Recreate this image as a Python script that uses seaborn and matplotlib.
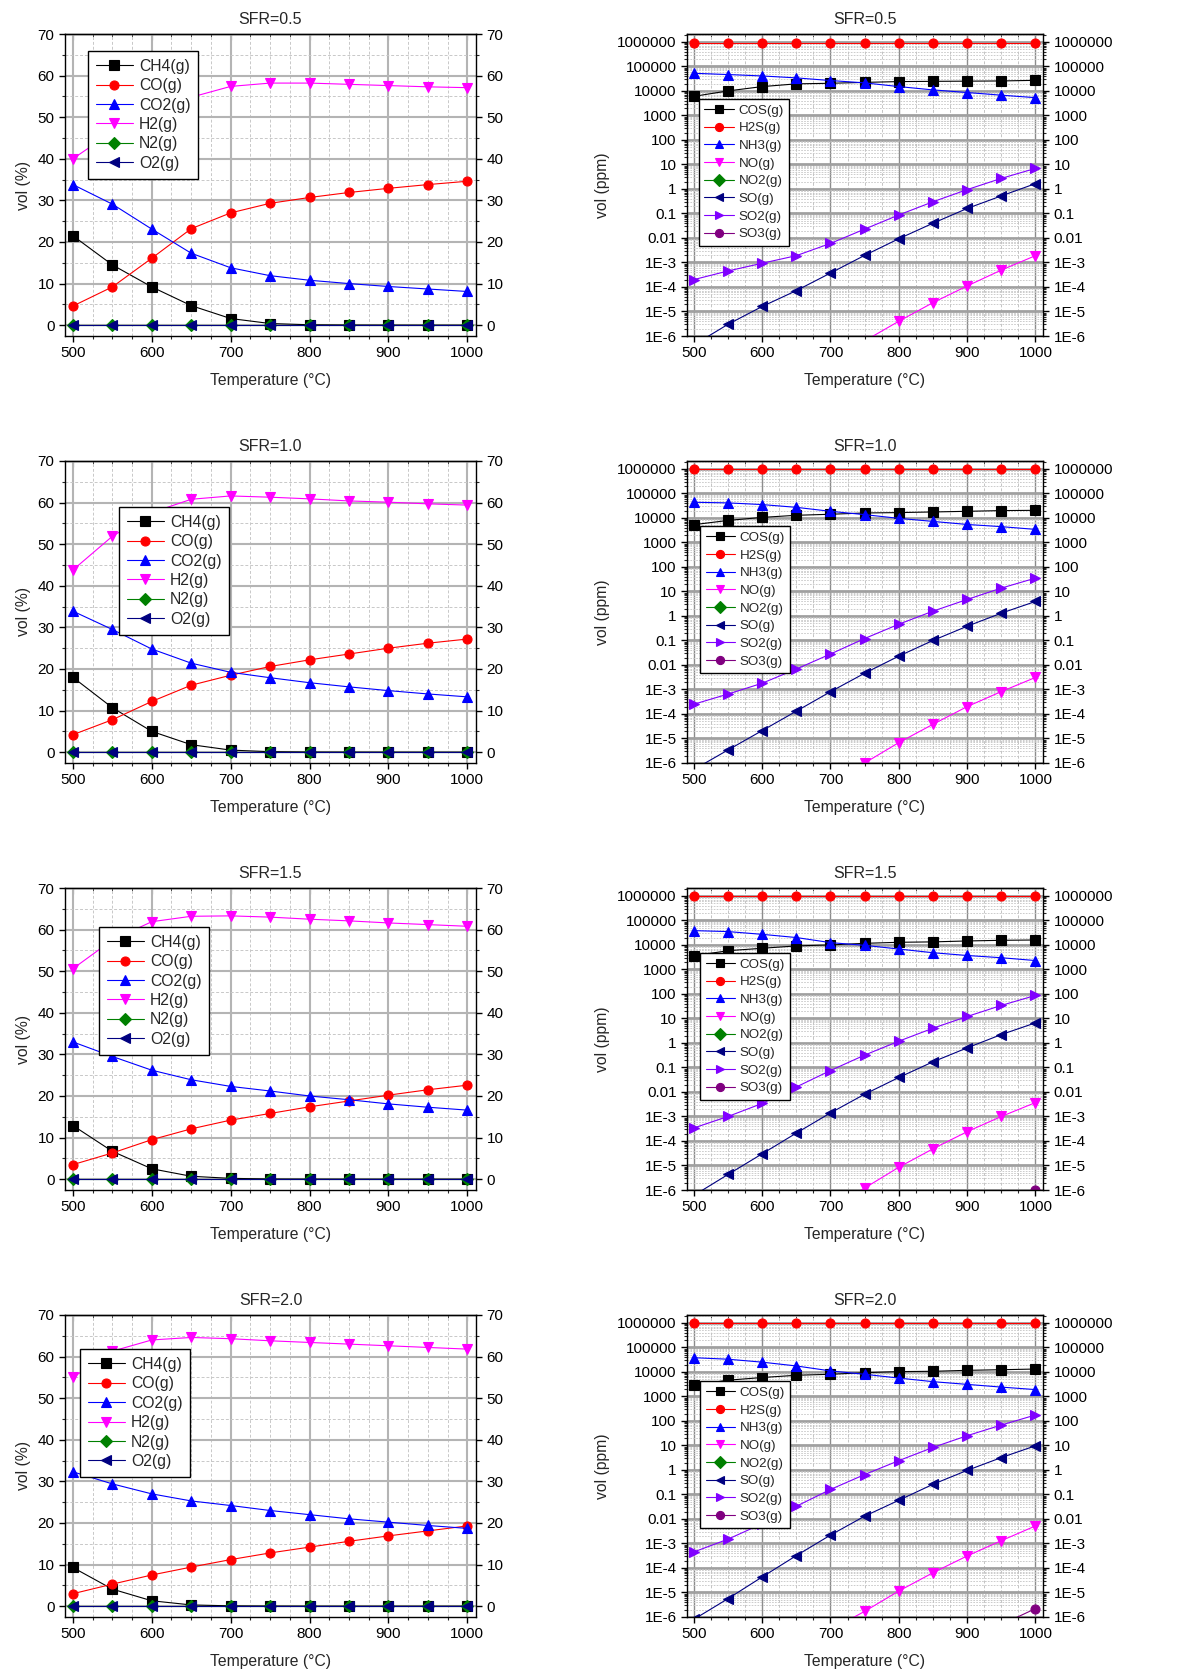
import numpy as np
import matplotlib
matplotlib.use('Agg')
import matplotlib.pyplot as plt
import matplotlib.ticker as ticker
import seaborn as sns

temps = [500, 550, 600, 650, 700, 750, 800, 850, 900, 950, 1000]
sfrs = ['0.5', '1.0', '1.5', '2.0']

# --- gases principais, vol (%) ---
ch4 = {'0.5': [21.5, 14.5, 9.2, 4.7, 1.6, 0.4, 0.1, 0.04, 0.02, 0.01, 0.01],
       '1.0': [18.0, 10.7, 5.0, 1.8, 0.5, 0.12, 0.04, 0.02, 0.01, 0.005, 0.003],
       '1.5': [12.9, 6.7, 2.5, 0.7, 0.2, 0.05, 0.02, 0.01, 0.005, 0.003, 0.002],
       '2.0': [9.3, 4.1, 1.3, 0.3, 0.08, 0.03, 0.01, 0.005, 0.003, 0.002, 0.001]}
co = {'0.5': [4.6, 9.2, 16.1, 23.2, 27.0, 29.3, 30.7, 31.9, 32.9, 33.8, 34.6],
      '1.0': [4.2, 7.8, 12.2, 16.1, 18.5, 20.6, 22.2, 23.6, 25.0, 26.2, 27.2],
      '1.5': [3.5, 6.3, 9.5, 12.1, 14.2, 15.8, 17.4, 18.8, 20.2, 21.5, 22.6],
      '2.0': [3.0, 5.3, 7.5, 9.4, 11.2, 12.8, 14.2, 15.6, 16.9, 18.1, 19.3]}
co2 = {'0.5': [33.8, 29.1, 23.1, 17.3, 13.8, 11.9, 10.8, 10.0, 9.3, 8.7, 8.1],
       '1.0': [33.9, 29.5, 24.8, 21.4, 19.2, 17.9, 16.7, 15.7, 14.8, 14.0, 13.3],
       '1.5': [33.0, 29.5, 26.2, 23.9, 22.3, 21.2, 20.0, 19.1, 18.1, 17.3, 16.6],
       '2.0': [32.3, 29.4, 27.0, 25.3, 24.2, 23.0, 22.0, 21.0, 20.2, 19.4, 18.7]}
h2 = {'0.5': [40.0, 46.5, 51.5, 54.8, 57.4, 58.2, 58.2, 57.9, 57.6, 57.3, 57.1],
      '1.0': [43.8, 51.9, 57.6, 60.8, 61.6, 61.3, 60.9, 60.4, 60.1, 59.7, 59.4],
      '1.5': [50.6, 57.5, 61.9, 63.2, 63.3, 63.0, 62.5, 62.1, 61.6, 61.2, 60.8],
      '2.0': [55.0, 61.3, 64.0, 64.6, 64.3, 63.8, 63.4, 63.0, 62.6, 62.2, 61.8]}
n2 = {s: [0.0, 0.0, 0.0, 0.0, 0.0, 0.0, 0.0, 0.0, 0.0, 0.0, 0.0] for s in sfrs}
o2 = {s: [0.0, 0.0, 0.0, 0.0, 0.0, 0.0, 0.0, 0.0, 0.0, 0.0, 0.0] for s in sfrs}

# --- gases traço, vol (ppm) ---
cos_ = {'0.5': [6000, 10000, 15000, 19400, 20500, 22300, 24000, 24600, 25000, 25500, 27000],
        '1.0': [5300, 7900, 10500, 12800, 14100, 15900, 16500, 17500, 18600, 19900, 20400],
        '1.5': [3600, 5800, 7300, 9100, 10000, 11600, 12800, 13300, 14500, 15400, 15900],
        '2.0': [2900, 4600, 5900, 7300, 8000, 9300, 10300, 10600, 11600, 12300, 13100]}
h2s = {'0.5': [9.4e5, 9.4e5, 9.4e5, 9.4e5, 9.4e5, 9.4e5, 9.4e5, 9.4e5, 9.4e5, 9.4e5, 9.4e5],
       '1.0': [9.5e5, 9.5e5, 9.5e5, 9.5e5, 9.5e5, 9.5e5, 9.5e5, 9.5e5, 9.5e5, 9.5e5, 9.5e5],
       '1.5': [9.6e5, 9.6e5, 9.6e5, 9.6e5, 9.6e5, 9.6e5, 9.6e5, 9.6e5, 9.6e5, 9.6e5, 9.6e5],
       '2.0': [9.6e5, 9.6e5, 9.6e5, 9.6e5, 9.6e5, 9.6e5, 9.6e5, 9.6e5, 9.6e5, 9.6e5, 9.6e5]}
nh3 = {'0.5': [52500, 46500, 40800, 34000, 26500, 21300, 15000, 11000, 8600, 6700, 5300],
       '1.0': [43500, 41000, 35000, 27000, 18600, 13600, 9600, 7200, 5400, 4400, 3400],
       '1.5': [38300, 35000, 27000, 20000, 12400, 9600, 6800, 4800, 3700, 3000, 2300],
       '2.0': [38000, 33000, 25000, 17500, 11000, 8000, 5600, 4000, 3100, 2400, 1900]}
no = {'0.5': [3e-12, 5e-11, 7e-10, 8e-9, 8e-8, 6.3e-7, 4.0e-6, 2.3e-5, 1.1e-4, 4.9e-4, 1.9e-3],
      '1.0': [1e-11, 1.5e-10, 1.5e-9, 1.3e-8, 1.5e-7, 1.0e-6, 6.8e-6, 3.8e-5, 2.0e-4, 8.2e-4, 3.1e-3],
      '1.5': [2e-11, 3e-10, 3e-9, 2.5e-8, 1.7e-7, 1.2e-6, 8.5e-6, 4.8e-5, 2.4e-4, 1.0e-3, 3.7e-3],
      '2.0': [3e-11, 5e-10, 5e-9, 4e-8, 3e-7, 1.7e-6, 1.15e-5, 6.4e-5, 3.1e-4, 1.3e-3, 5.2e-3]}
no2 = {'0.5': [1e-14, 5e-14, 2e-13, 8e-13, 3e-12, 1e-11, 3e-11, 8e-11, 2e-10, 5e-10, 1e-9],
       '1.0': [2e-14, 9e-14, 4e-13, 1.5e-12, 5e-12, 1.6e-11, 5e-11, 1.3e-10, 3e-10, 7e-10, 1.5e-9],
       '1.5': [3e-14, 1.3e-13, 6e-13, 2e-12, 7e-12, 2.2e-11, 6e-11, 1.6e-10, 4e-10, 9e-10, 2e-9],
       '2.0': [4e-14, 1.8e-13, 8e-13, 3e-12, 9e-12, 2.8e-11, 8e-11, 2e-10, 5e-10, 1.1e-9, 2.5e-9]}
so = {'0.5': [4.3e-7, 3.0e-6, 1.6e-5, 7.1e-5, 3.7e-4, 1.95e-3, 9.3e-3, 0.04, 0.16, 0.52, 1.65],
      '1.0': [5.4e-7, 3.4e-6, 2.1e-5, 1.3e-4, 8.1e-4, 4.6e-3, 0.023, 0.10, 0.38, 1.3, 3.9],
      '1.5': [6e-7, 4.3e-6, 3.0e-5, 2.1e-4, 1.4e-3, 8.1e-3, 0.039, 0.17, 0.63, 2.2, 6.6],
      '2.0': [8e-7, 5.6e-6, 4.3e-5, 3.2e-4, 2.2e-3, 0.013, 0.058, 0.26, 0.96, 3.2, 9.7]}
so2 = {'0.5': [2.0e-4, 4.5e-4, 9.3e-4, 1.9e-3, 6.0e-3, 0.023, 0.087, 0.30, 0.94, 2.7, 6.9],
       '1.0': [2.5e-4, 6.5e-4, 1.8e-3, 6.8e-3, 0.028, 0.12, 0.46, 1.57, 4.7, 13.7, 35],
       '1.5': [3.4e-4, 1.0e-3, 3.4e-3, 0.016, 0.075, 0.32, 1.18, 4.0, 12, 34, 87],
       '2.0': [4.5e-4, 1.5e-3, 6.4e-3, 0.033, 0.16, 0.65, 2.4, 8.3, 25, 68, 175]}
so3 = {'0.5': [1e-12, 5e-12, 2e-11, 8e-11, 3e-10, 1e-9, 3e-9, 8e-9, 2e-8, 4e-8, 8e-8],
       '1.0': [3e-12, 1.5e-11, 7e-11, 3e-10, 1.2e-9, 4e-9, 1.2e-8, 3.5e-8, 9e-8, 2e-7, 4e-7],
       '1.5': [6e-12, 3e-11, 1.5e-10, 7e-10, 3e-9, 1.1e-8, 3.5e-8, 1e-7, 2.5e-7, 5.5e-7, 1.0e-6],
       '2.0': [1e-11, 6e-11, 3e-10, 1.4e-9, 5e-9, 1.6e-8, 4.5e-8, 1.1e-7, 2.3e-7, 4.9e-7, 2.2e-6]}

log_ticks = [1e-6, 1e-5, 1e-4, 1e-3, 1e-2, 1e-1, 1, 10, 100, 1000, 1e4, 1e5, 1e6]
log_labels = ['1E-6', '1E-5', '1E-4', '1E-3', '0.01', '0.1', '1', '10', '100',
              '1000', '10000', '100000', '1000000']

# (nome, dados, cor, marcador)
series_pct = [('CH4(g)', ch4, '#000000', 's'), ('CO(g)', co, '#ff0000', 'o'),
              ('CO2(g)', co2, '#0000ff', '^'), ('H2(g)', h2, '#ff00ff', 'v'),
              ('N2(g)', n2, '#008000', 'D'), ('O2(g)', o2, '#000080', '<')]
series_ppm = [('COS(g)', cos_, '#000000', 's'), ('H2S(g)', h2s, '#ff0000', 'o'),
              ('NH3(g)', nh3, '#0000ff', '^'), ('NO(g)', no, '#ff00ff', 'v'),
              ('NO2(g)', no2, '#008000', 'D'), ('SO(g)', so, '#000080', '<'),
              ('SO2(g)', so2, '#8000ff', '>'), ('SO3(g)', so3, '#800080', 'o')]

legend_pct = [(0.056, 0.944), (0.131, 0.848), (0.083, 0.871), (0.036, 0.887)]
legend_ppm = [(0.034, 0.785), (0.037, 0.784), (0.037, 0.785), (0.037, 0.780)]

sns.set_style('ticks')
plt.rcParams['font.family'] = ['Liberation Sans', 'DejaVu Sans']
plt.rcParams['font.size'] = 11
plt.rcParams['axes.linewidth'] = 1.0

fig = plt.figure(figsize=(11.94, 16.73), dpi=100)
W, H = 1194, 1673
tops = [34, 461, 888, 1315]
ax_h = 302


def estilo_eixos(ax):
    ax.set_xlim(490, 1011)
    ax.xaxis.set_major_locator(ticker.MultipleLocator(100))
    ax.xaxis.set_minor_locator(ticker.MultipleLocator(25))
    ax.tick_params(axis='both', which='major', direction='out', length=4, width=1,
                   labelsize=11, colors='black')
    ax.tick_params(axis='both', which='minor', direction='out', length=2.5, width=0.8)
    ax.tick_params(axis='y', which='both', right=True, labelright=True)
    for sp in ax.spines.values():
        sp.set_color('black')
        sp.set_linewidth(1.0)
    top = ax.secondary_xaxis('top')
    top.xaxis.set_major_locator(ticker.MultipleLocator(100))
    top.xaxis.set_minor_locator(ticker.MultipleLocator(25))
    top.tick_params(which='major', direction='in', length=4, labeltop=False)
    top.tick_params(which='minor', direction='in', length=2.5)
    ax.set_axisbelow(True)
    ax.set_xlabel('Temperature (°C)', labelpad=9, fontsize=11.3)


for i, sfr in enumerate(sfrs):
    bottom = 1 - (tops[i] + ax_h) / H

    # painel esquerdo: vol (%)
    ax = fig.add_axes([65 / W, bottom, 411 / W, ax_h / H])
    for nome, dados, cor, mk in series_pct:
        sns.lineplot(x=temps, y=dados[sfr], ax=ax, color=cor, marker=mk, markersize=6.5,
                     markeredgecolor=cor, markeredgewidth=0.8, linewidth=0.8, label=nome,
                     errorbar=None)
    ax.set_ylim(-2.6, 70)
    ax.yaxis.set_major_locator(ticker.MultipleLocator(10))
    ax.yaxis.set_minor_locator(ticker.MultipleLocator(5))
    ax.grid(which='major', color='#b4b4b4', linewidth=1.5, linestyle='-')
    ax.grid(which='minor', color='#c8c8c8', linewidth=0.7, linestyle=(0, (3, 2)))
    estilo_eixos(ax)
    ax.set_ylabel('vol (%)', labelpad=5, fontsize=11.3)
    ax.set_title(f'SFR={sfr}', fontsize=11.5, pad=7)
    ax.legend(loc='upper left', bbox_to_anchor=legend_pct[i], borderaxespad=0,
              frameon=True, fancybox=False, edgecolor='black', framealpha=1,
              handlelength=2.35, handletextpad=0.4, labelspacing=0.28, borderpad=0.5,
              fontsize=11.3).get_frame().set_linewidth(1.0)

    # painel direito: vol (ppm)
    ax = fig.add_axes([687 / W, bottom, 356 / W, ax_h / H])
    ax.set_yscale('log')
    for nome, dados, cor, mk in series_ppm:
        sns.lineplot(x=temps, y=dados[sfr], ax=ax, color=cor, marker=mk, markersize=6.5,
                     markeredgecolor=cor, markeredgewidth=0.8, linewidth=0.8, label=nome,
                     errorbar=None)
    ax.set_ylim(1e-6, 2.1e6)
    ax.yaxis.set_major_locator(ticker.FixedLocator(log_ticks))
    ax.yaxis.set_major_formatter(ticker.FixedFormatter(log_labels))
    ax.yaxis.set_minor_locator(ticker.LogLocator(base=10, subs=np.arange(2, 10), numticks=100))
    ax.yaxis.set_minor_formatter(ticker.NullFormatter())
    ax.grid(which='major', axis='y', color='#a0a0a0', linewidth=2.0, linestyle='-')
    ax.grid(which='major', axis='x', color='#8c8c8c', linewidth=1.0, linestyle='-')
    ax.grid(which='minor', axis='y', color='#c4c4c4', linewidth=0.6, linestyle=(0, (2, 1.5)))
    ax.grid(which='minor', axis='x', color='#c4c4c4', linewidth=0.7, linestyle=(0, (3, 2)))
    estilo_eixos(ax)
    ax.set_ylabel('vol (ppm)', labelpad=5, fontsize=11.3)
    ax.set_title(f'SFR={sfr}', fontsize=11.5, pad=7)
    ax.legend(loc='upper left', bbox_to_anchor=legend_ppm[i], borderaxespad=0,
              frameon=True, fancybox=False, edgecolor='black', framealpha=1,
              handlelength=2.2, handletextpad=0.35, labelspacing=0.4, borderpad=0.4,
              fontsize=9.6, markerscale=0.9).get_frame().set_linewidth(1.0)

fig.savefig('out.png', dpi=100)
plt.close(fig)
